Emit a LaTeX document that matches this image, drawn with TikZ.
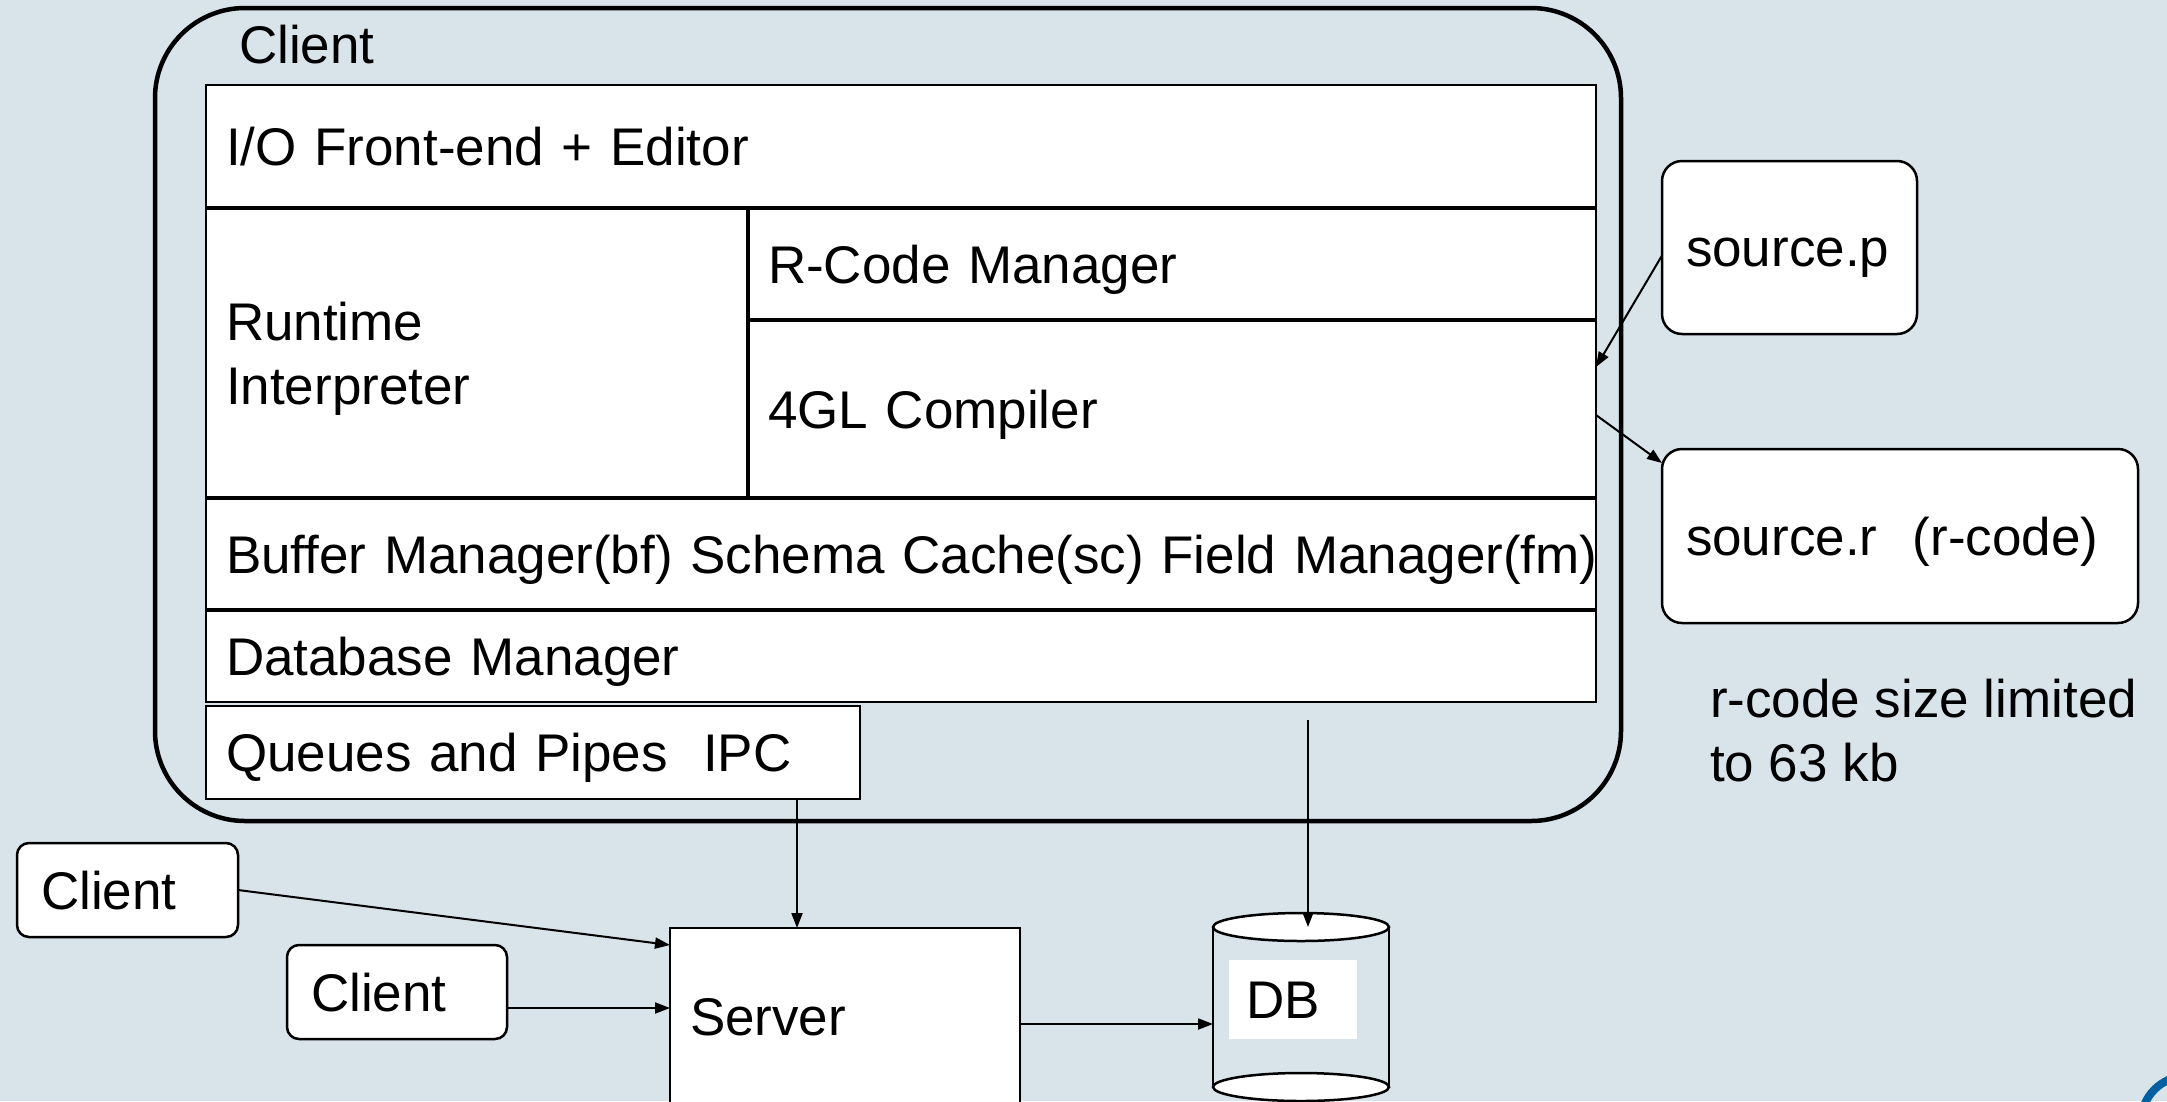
\documentclass[tikz,border=0pt]{standalone}
\usepackage{fontspec}
\setmainfont{Liberation Sans}
\usetikzlibrary{arrows.meta}
\definecolor{slide}{RGB}{217,227,234}
\definecolor{logoblue}{RGB}{0,96,160}
\tikzset{
  every node/.style={font=\fontsize{53}{64}\selectfont, outer sep=0pt},
  layerbox/.style={draw, line width=2pt, fill=white, anchor=north west, align=left,
    inner xsep=20pt, inner ysep=0pt},
  layer/.style={layerbox, text height=38pt, text depth=0pt},
  split/.style={line width=4.5pt},
  frame/.style={draw, line width=4.5pt, rounded corners=90pt, anchor=north west,
    inner sep=0pt},
  filebox/.style={draw, line width=2.5pt, fill=white, rounded corners=20pt,
    anchor=north west, align=left, inner xsep=24pt, inner ysep=0pt,
    text height=38pt, text depth=0pt},
  clientbox/.style={filebox, rounded corners=12pt},
  flow/.style={line width=2pt, -{Triangle[length=15pt,width=11pt]}},
  drum/.style={line width=2.5pt},
}
\begin{document}
\begin{tikzpicture}[x=1pt,y=-1pt]
\useasboundingbox (0,0) rectangle (2167,1101);
\clip (0,0) rectangle (2167,1101);
\fill[slide] (0,0) rectangle (2167,1101);

% ring in the lower right corner
\draw[logoblue, line width=8pt] (2187,1122) circle[radius=46pt];

% client process frame
\node[frame, minimum width=1466pt, minimum height=813pt] (client) at (155,8) {};
\node[anchor=west, inner sep=0pt, text height=38pt, text depth=0pt] (clienttitle) at (239,44) {Client};

% layers of the client
\node[layer, text width=1350pt, minimum height=123pt] (io) at (206,85) {I/O Front-end + Editor};
\node[layerbox, text width=502pt, minimum height=290pt, text depth=64pt] (rt) at (206,208) {Runtime\\Interpreter};
\node[layer, text width=808pt, minimum height=112pt] (rcm) at (748,208) {R-Code Manager};
\node[layer, text width=808pt, minimum height=178pt] (glc) at (748,320) {4GL Compiler};
\node[layer, text width=1350pt, minimum height=112pt] (buf) at (206,498) {\mbox{Buffer Manager(bf) Schema Cache(sc) Field Manager(fm)}};
\node[layer, text width=1350pt, minimum height=92pt] (dbm) at (206,610) {Database Manager};
\node[layer, text width=614pt, minimum height=93pt] (ipc) at (206,706) {Queues and Pipes\ \ IPC};

% heavier dividers between the layers
\draw[split] (io.south west) -- (io.south east);
\draw[split] (rt.north east) -- (rt.south east);
\draw[split] (rcm.south west) -- (rcm.south east);
\draw[split] (rt.south west) -- (glc.south east);
\draw[split] (buf.south west) -- (buf.south east);

% source and r-code files
\node[filebox, text width=207pt, minimum height=173pt] (srcp) at (1662,161) {source.p};
\node[filebox, text width=428pt, minimum height=174pt] (srcr) at (1662,449) {source.r\ \ (r-code)};
\node[anchor=north west, align=left, inner sep=0pt] (limit) at (1710,679) {r-code size limited\\to 63 kb};

% other clients and the server
\node[clientbox, text width=173pt, minimum height=94pt] (cl1) at (17,843) {Client};
\node[clientbox, text width=172pt, minimum height=94pt] (cl2) at (287,945) {Client};
\node[layer, text width=310pt, minimum height=177pt] (server) at (670,928) {Server};

% database drum
\draw[drum] (1213,927) -- (1213,1087) (1389,927) -- (1389,1087);
\draw[drum, fill=white] (1301,1087) ellipse[x radius=88pt, y radius=14pt];
\draw[drum, fill=white] (1301,927) ellipse[x radius=88pt, y radius=14pt];
\node[fill=white, anchor=north west, align=left, inner xsep=17pt, inner ysep=0pt,
  text width=94pt, minimum height=79pt, text height=38pt, text depth=0pt] (dblabel) at (1229,960) {DB};
\coordinate (dbtop) at (1308,927);
\coordinate (dbside) at (1213,1024);
\coordinate (dbtap) at (1308,720);

% connectors
\draw[flow] ([yshift=-8pt]srcp.west) -- ([yshift=-47pt]glc.north east);
\draw[flow] ([yshift=-6pt]glc.east) -- ([yshift=-14pt]srcr.north west);
\draw[flow] ([xshift=264pt]ipc.south) -- ([xshift=264pt]ipc.south |- server.north);
\draw[flow] (dbtap) -- (dbtop);
\draw[flow] (cl1.east) -- ([yshift=-17pt]server.north west);
\draw[flow] ([yshift=-16pt]cl2.east) -- ([yshift=-16pt]cl2.east -| server.west);
\draw[flow] (server.east |- dbside) -- (dbside);
\end{tikzpicture}
\end{document}
